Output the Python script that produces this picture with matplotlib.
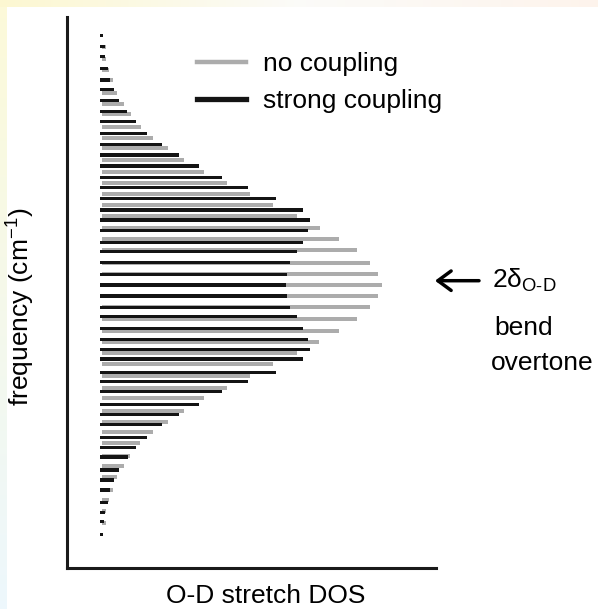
import numpy as np
import matplotlib
matplotlib.use("Agg")
import matplotlib.pyplot as plt
from matplotlib.lines import Line2D

plt.rcParams['font.family'] = ['Liberation Sans', 'DejaVu Sans']
plt.rcParams['mathtext.default'] = 'regular'

# mode frequencies (offset from band centre, arbitrary units) and O-D stretch DOS
freq_strong = [249.7, 238.3, 228.3, 216.7, 205.0, 195.7, 184.3, 173.3, 163.3, 151.7,
               140.3, 130.0, 119.0, 107.7, 97.7, 86.3, 75.0, 65.0, 54.3, 42.7,
               33.3, 22.7, 10.7, 0.0, -11.0, -22.3, -31.7, -43.3, -54.3, -64.3,
               -74.0, -87.3, -96.7, -106.7, -119.3, -129.3, -139.3, -152.3, -162.3, -172.0,
               -185.0, -195.0, -205.0, -217.7, -227.3, -236.7, -249.3]
dos_strong = [3.3, 4.5, 4.5, 8.0, 10.0, 14.0, 19.0, 27.0, 36.0, 47.0,
              61.7, 79.3, 99.3, 122.3, 148.3, 175.7, 203.3, 210.0, 208.3, 203.3,
              196.7, 190.0, 187.3, 185.7, 187.3, 190.0, 196.7, 203.3, 208.3, 210.0,
              203.3, 175.7, 148.3, 122.3, 99.3, 79.3, 61.7, 47.3, 35.7, 27.7,
              19.3, 14.3, 10.0, 8.3, 5.0, 4.0, 3.3]

freq_none = [238.0, 226.0, 215.0, 205.0, 191.7, 181.0, 171.0, 158.0, 147.3, 136.7,
             125.0, 113.3, 102.3, 91.0, 80.0, 69.0, 56.7, 45.7, 35.0, 22.3,
             11.0, 0.0, -11.0, -22.3, -34.3, -45.7, -56.7, -68.3, -79.0, -91.0,
             -102.7, -113.3, -125.7, -136.7, -147.3, -157.7, -171.0, -181.0, -191.7, -205.0,
             -215.0, -226.0, -238.0]
dos_none = [4.3, 4.0, 7.3, 11.0, 15.6, 22.3, 29.3, 39.3, 51.3, 66.6,
            82.6, 102.6, 125.0, 148.3, 171.0, 195.0, 218.3, 237.3, 255.0, 268.3,
            276.6, 280.0, 276.6, 268.3, 255.0, 237.3, 217.6, 195.0, 171.0, 148.3,
            125.0, 102.6, 82.6, 66.6, 51.6, 38.3, 28.3, 22.3, 15.6, 11.0,
            7.3, 4.0, 4.3]

labels = ['no coupling', 'strong coupling']
gray = '#acacac'
black = '#141414'

W, H = 598, 609
fig = plt.figure(figsize=(W / 100, H / 100), dpi=100)

# soft tinted border round the white page
bg = np.ones((H, W, 3))
t = np.linspace(0, 1, H)[:, None]
left_col = (1 - t) * np.array([0.99, 0.98, 0.85]) + t * np.array([0.93, 0.97, 0.99])
bg[:, :7, :] = left_col[:, None, :]
s = np.linspace(0, 1, W)[:, None]
top_row = np.where(s < 0.5,
                   (1 - 2 * s) * np.array([0.99, 0.97, 0.82]) + 2 * s * np.array([0.985, 0.985, 0.975]),
                   (2 - 2 * s) * np.array([0.985, 0.985, 0.975]) + (2 * s - 1) * np.array([0.995, 0.955, 0.925]))
bg[:7, :, :] = top_row[None, :, :]
fig.figimage(bg, xo=0, yo=0, origin='upper', zorder=-10)

ax_l, ax_b = 66.7, 568.0
ax_t, ax_r = 16.7, 436.0
ax = fig.add_axes([ax_l / W, (H - ax_b) / H, (ax_r - ax_l) / W, (ax_b - ax_t) / H])
ax.patch.set_alpha(0)

ax.barh(freq_none, dos_none, left=35.0, height=4.2, color=gray, linewidth=0)
ax.barh(freq_strong, dos_strong, left=33.3, height=3.4, color=black, linewidth=0)

ax.set_xlim(0, ax_r - ax_l)
ax.set_ylim(-(ax_b - 285), 285 - ax_t)
ax.set_xticks([])
ax.set_yticks([])
for side in ['top', 'right']:
    ax.spines[side].set_visible(False)
for side in ['left', 'bottom']:
    ax.spines[side].set_linewidth(2.2)
    ax.spines[side].set_color('#1a1a1a')

handles = [Line2D([], [], color=gray, lw=3.2), Line2D([], [], color=black, lw=3.8)]
ax.legend(handles, labels, loc='upper left', bbox_to_anchor=(197 / W, 1 - 52 / H),
          bbox_transform=fig.transFigure, frameon=False, fontsize=19,
          handlelength=1.85, handletextpad=0.65, labelspacing=0.49,
          borderpad=0, borderaxespad=0)

# overtone marker
ax.annotate('', xy=(435 - ax_l, 285 - 280.7), xytext=(479 - ax_l, 285 - 280.7),
            annotation_clip=False,
            arrowprops=dict(arrowstyle='->, head_length=0.95, head_width=0.7',
                            lw=2.5, color='black', shrinkA=0, shrinkB=0))
fig.text(491.7 / W, 1 - 288.3 / H, '2δ$_{O\u2011D}$', fontsize=19, ha='left', va='baseline')
fig.text(494 / W, 1 - 335 / H, 'bend', fontsize=19, ha='left', va='baseline')
fig.text(490.7 / W, 1 - 370 / H, 'overtone', fontsize=19, ha='left', va='baseline')

fig.text(266 / W, 5.7 / H, 'O-D stretch DOS', fontsize=19, ha='center', va='baseline')
fig.text(21 / W, 1 - 307 / H, 'frequency (cm$^{-1}$)', fontsize=19, rotation=90,
         ha='center', va='center')

fig.savefig('out.png', dpi=100)
